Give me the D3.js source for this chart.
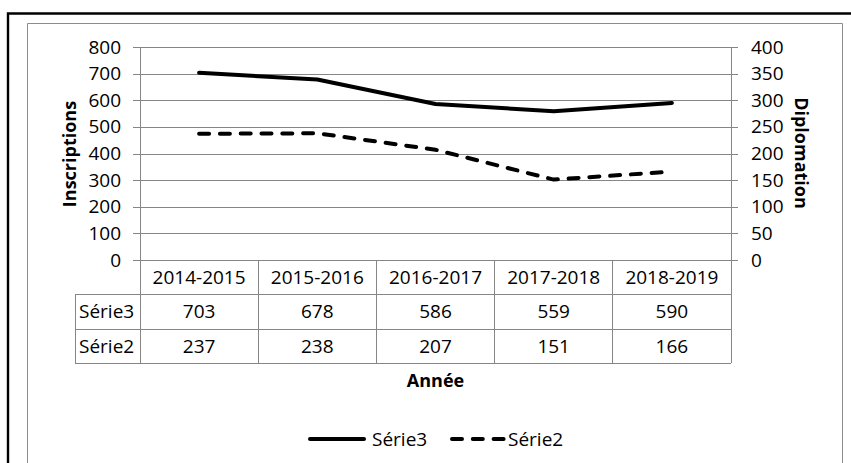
<!DOCTYPE html>
<html>
<head>
<meta charset="utf-8">
<script src="https://cdn.jsdelivr.net/npm/d3@7/dist/d3.min.js"></script>
<style>
body { margin: 0; background: #fff; }
text { font-family: "Open Sans", sans-serif; fill: #000; }
.title { font-weight: bold; font-size: 18px; }
</style>
</head>
<body>
<script>
// data
var categories = ["2014-2015", "2015-2016", "2016-2017", "2017-2018", "2018-2019"];
var serie3 = [703, 678, 586, 559, 590];   // Inscriptions (left axis)
var serie2 = [237, 238, 207, 151, 166];   // Diplomation (right axis)
var seriesNames = ["Série3", "Série2"];
var leftTicks = [0, 100, 200, 300, 400, 500, 600, 700, 800];
var rightTicks = [0, 50, 100, 150, 200, 250, 300, 350, 400];

var W = 851, H = 463;
var plot = {left: 140, right: 731, top: 47, bottom: 260};
var rowH = [34, 35, 34];
var tableLeft = 75;
var gridColor = "#868686";

var svg = d3.select("body").append("svg")
    .attr("width", W)
    .attr("height", H);

svg.append("rect").attr("width", W).attr("height", H).attr("fill", "#fff");

// outer frames
svg.append("path")
    .attr("d", "M8," + H + "V13.5H" + W)
    .attr("fill", "none").attr("stroke", "#000").attr("stroke-width", 2.4);
svg.append("path")
    .attr("d", "M27.5," + H + "V23.5H842.5V" + H)
    .attr("fill", "none").attr("stroke", "#8c8c8c").attr("stroke-width", 1);

var x = d3.scaleBand().domain(categories).range([plot.left, plot.right]);
var yL = d3.scaleLinear().domain([0, 800]).range([plot.bottom, plot.top]);
var yR = d3.scaleLinear().domain([0, 400]).range([plot.bottom, plot.top]);

// gridlines
svg.append("g")
    .attr("transform", "translate(" + plot.left + ",0)")
    .call(d3.axisLeft(yL).tickValues(leftTicks).tickSize(-(plot.right - plot.left)).tickFormat(""))
    .call(function(g) { g.select(".domain").remove(); })
    .selectAll("line").attr("stroke", gridColor).attr("shape-rendering", "crispEdges");

// left axis
var gl = svg.append("g")
    .attr("transform", "translate(" + plot.left + ",0)")
    .call(d3.axisLeft(yL).tickValues(leftTicks).tickSize(7).tickPadding(12));
gl.select(".domain").attr("d", "M0," + plot.top + "V" + plot.bottom);

// right axis
var gr = svg.append("g")
    .attr("transform", "translate(" + plot.right + ",0)")
    .call(d3.axisRight(yR).tickValues(rightTicks).tickSize(7).tickPadding(13));
gr.select(".domain").attr("d", "M0," + plot.top + "V" + plot.bottom);

svg.selectAll(".tick line, .domain")
    .attr("stroke", gridColor).attr("shape-rendering", "crispEdges");
svg.selectAll(".tick text")
    .style("font-family", "'Open Sans', sans-serif")
    .style("font-size", "19px")
    .attr("fill", "#000");

// x axis line across ticks
svg.append("line")
    .attr("x1", plot.left - 7).attr("x2", plot.right + 7)
    .attr("y1", plot.bottom).attr("y2", plot.bottom)
    .attr("stroke", gridColor).attr("shape-rendering", "crispEdges");

// lines
var line3 = d3.line()
    .x(function(d, i) { return x(categories[i]) + x.bandwidth() / 2; })
    .y(function(d) { return yL(d); });
var line2 = d3.line()
    .x(function(d, i) { return x(categories[i]) + x.bandwidth() / 2; })
    .y(function(d) { return yR(d); });

svg.append("path")
    .datum(serie3)
    .attr("d", line3)
    .attr("fill", "none").attr("stroke", "#000").attr("stroke-width", 4)
    .attr("stroke-linejoin", "round").attr("stroke-linecap", "round");

svg.append("path")
    .datum(serie2)
    .attr("d", line2)
    .attr("fill", "none").attr("stroke", "#000").attr("stroke-width", 4)
    .attr("stroke-dasharray", "10,10.8")
    .attr("stroke-linejoin", "round").attr("stroke-linecap", "round");

// data table
var r0 = plot.bottom, r1 = r0 + rowH[0], r2 = r1 + rowH[1], r3 = r2 + rowH[2];
var table = svg.append("g").attr("shape-rendering", "crispEdges");
[r1, r2, r3].forEach(function(yy) {
  table.append("line")
      .attr("x1", tableLeft).attr("x2", plot.right)
      .attr("y1", yy).attr("y2", yy)
      .attr("stroke", gridColor);
});
table.append("line")
    .attr("x1", tableLeft).attr("x2", tableLeft)
    .attr("y1", r1).attr("y2", r3)
    .attr("stroke", gridColor);
categories.concat([null]).forEach(function(c) {
  var xx = c ? x(c) : plot.right;
  table.append("line")
      .attr("x1", xx).attr("x2", xx)
      .attr("y1", r0).attr("y2", r3)
      .attr("stroke", gridColor);
});

var cellText = svg.append("g").style("font-size", "19px");
cellText.selectAll(".cat")
    .data(categories)
  .enter().append("text")
    .attr("x", function(d) { return x(d) + x.bandwidth() / 2; })
    .attr("y", (r0 + r1) / 2)
    .attr("dy", "0.35em")
    .attr("text-anchor", "middle")
    .text(function(d) { return d; });

[serie3, serie2].forEach(function(vals, k) {
  var yc = k === 0 ? (r1 + r2) / 2 : (r2 + r3) / 2;
  cellText.append("text")
      .attr("x", tableLeft + 4)
      .attr("y", yc).attr("dy", "0.35em")
      .text(seriesNames[k]);
  cellText.selectAll(".v" + k)
      .data(vals)
    .enter().append("text")
      .attr("x", function(d, i) { return x(categories[i]) + x.bandwidth() / 2; })
      .attr("y", yc).attr("dy", "0.35em")
      .attr("text-anchor", "middle")
      .text(function(d) { return d; });
});

// axis titles
svg.append("text")
    .attr("class", "title")
    .attr("x", (plot.left + plot.right) / 2).attr("y", 381)
    .attr("dy", "0.35em").attr("text-anchor", "middle")
    .text("Année");
svg.append("text")
    .attr("class", "title")
    .attr("transform", "translate(70,154) rotate(-90)")
    .attr("dy", "0.35em").attr("text-anchor", "middle")
    .text("Inscriptions");
svg.append("text")
    .attr("class", "title")
    .attr("transform", "translate(801,153) rotate(90)")
    .attr("dy", "0.35em").attr("text-anchor", "middle")
    .text("Diplomation");

// legend
var legY = 439;
var legend = svg.append("g");
legend.append("line")
    .attr("x1", 310).attr("x2", 364).attr("y1", legY).attr("y2", legY)
    .attr("stroke", "#000").attr("stroke-width", 4).attr("stroke-linecap", "round");
legend.append("text")
    .attr("x", 372).attr("y", legY).attr("dy", "0.35em")
    .style("font-size", "19px")
    .text(seriesNames[0]);
legend.append("line")
    .attr("x1", 452).attr("x2", 504).attr("y1", legY).attr("y2", legY)
    .attr("stroke", "#000").attr("stroke-width", 4).attr("stroke-linecap", "round")
    .attr("stroke-dasharray", "10,10.8");
legend.append("text")
    .attr("x", 508).attr("y", legY).attr("dy", "0.35em")
    .style("font-size", "19px")
    .text(seriesNames[1]);
</script>
</body>
</html>
